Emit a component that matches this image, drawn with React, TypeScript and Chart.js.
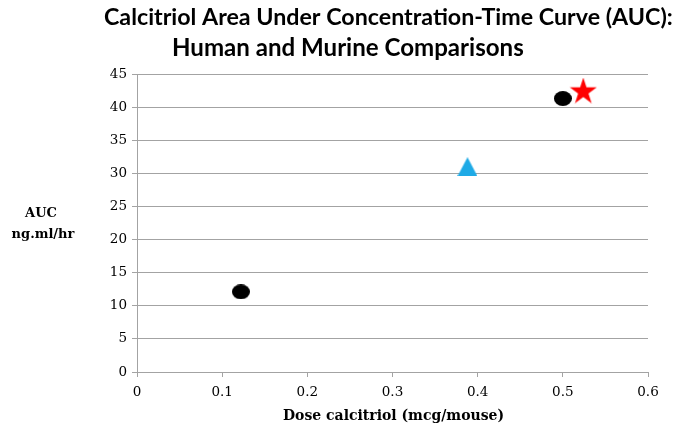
import React, { useEffect, useRef } from "react";
import { Chart, registerables } from "chart.js";

Chart.register(...registerables);

// ---- data ----
const titleLines = [
  "Calcitriol Area Under Concentration-Time Curve (AUC):",
  "Human and Murine Comparisons",
];
const xAxisTitle = "Dose calcitriol (mcg/mouse)";
const yAxisTitleLines = ["AUC", "ng.ml/hr"];

const xTickLabels = ["0", "0.1", "0.2", "0.3", "0.4", "0.5", "0.6"];
const yTickLabels = ["0", "5", "10", "15", "20", "25", "30", "35", "40", "45"];

const circleDose = [0.122, 0.5];
const circleAuc = [12.1, 41.3];
const triangleDose = [0.388];
const triangleAuc = [31.0];
const starDose = [0.524];
const starAuc = [42.5];

function makeEllipse(w: number, h: number, color: string) {
  const c = document.createElement("canvas");
  c.width = w;
  c.height = h;
  const ctx = c.getContext("2d")!;
  ctx.fillStyle = color;
  ctx.beginPath();
  ctx.ellipse(w / 2, h / 2, w / 2, h / 2, 0, 0, Math.PI * 2);
  ctx.fill();
  return c;
}

function makeTriangle(w: number, h: number, color: string) {
  const c = document.createElement("canvas");
  c.width = w;
  c.height = h;
  const ctx = c.getContext("2d")!;
  ctx.fillStyle = color;
  ctx.beginPath();
  ctx.moveTo(w / 2, 0);
  ctx.lineTo(w, h);
  ctx.lineTo(0, h);
  ctx.closePath();
  ctx.fill();
  return c;
}

function makeStar(R: number, color: string) {
  const w = Math.ceil(2 * R * Math.sin((72 * Math.PI) / 180));
  const h = Math.ceil(R * (1 + Math.cos((36 * Math.PI) / 180)));
  const c = document.createElement("canvas");
  c.width = w;
  c.height = h;
  const ctx = c.getContext("2d")!;
  ctx.fillStyle = color;
  const cx = w / 2;
  const cy = R;
  const r = R * 0.382;
  ctx.beginPath();
  for (let i = 0; i < 10; i++) {
    const ang = -Math.PI / 2 + (i * Math.PI) / 5;
    const rad = i % 2 === 0 ? R : r;
    const px = cx + rad * Math.cos(ang);
    const py = cy + rad * Math.sin(ang);
    if (i === 0) ctx.moveTo(px, py);
    else ctx.lineTo(px, py);
  }
  ctx.closePath();
  ctx.fill();
  return c;
}

const W = 677;
const H = 433;
const PLOT_LEFT = 137;
const PLOT_RIGHT = 648;
const PLOT_TOP = 74;
const PLOT_BOTTOM = 372;
const GRID = "#a3a3a3";

export default function App() {
  const ref = useRef<HTMLCanvasElement | null>(null);

  useEffect(() => {
    document.body.style.margin = "0";
    const canvas = ref.current!;
    const textPlugin = {
      id: "customText",
      afterDraw(chart: any) {
        const ctx = chart.ctx as CanvasRenderingContext2D;
        ctx.save();
        ctx.fillStyle = "#000";
        // title
        ctx.font = "bold 100px Lato";
        const w1 = ctx.measureText(titleLines[0]).width;
        const size1 = (100 * (673 - 104)) / w1;
        const w2 = ctx.measureText(titleLines[1]).width;
        const size2 = Math.min(size1 * 1.04, (100 * 352) / w2);
        ctx.textAlign = "left";
        ctx.textBaseline = "alphabetic";
        ctx.font = `bold ${size1}px Lato`;
        ctx.fillText(titleLines[0], 104, 25);
        ctx.font = `bold ${size2}px Lato`;
        ctx.fillText(titleLines[1], 172, 56);
        // y axis title
        ctx.font = "bold 13px 'DejaVu Serif'";
        ctx.textAlign = "center";
        ctx.textBaseline = "middle";
        ctx.fillText(yAxisTitleLines[0], 41, 214);
        ctx.fillText(yAxisTitleLines[1], 43, 235);
        // x axis title
        ctx.font = "bold 14px 'DejaVu Serif'";
        ctx.fillText(xAxisTitle, (PLOT_LEFT + PLOT_RIGHT) / 2 + 1, 416);
        ctx.restore();
      },
    };

    const circle = makeEllipse(18, 15, "#000000");
    const tri = makeTriangle(20, 19, "#1eaae6");
    const star = makeStar(14.2, "#ff0000");

    const chart = new Chart(canvas, {
      type: "scatter",
      data: {
        datasets: [
          {
            label: "circles",
            data: circleDose.map((x, i) => ({ x, y: circleAuc[i] })),
            pointStyle: circle as any,
            pointRadius: 5,
            backgroundColor: "#000",
            borderColor: "#000",
          },
          {
            label: "triangle",
            data: triangleDose.map((x, i) => ({ x, y: triangleAuc[i] })),
            pointStyle: tri as any,
            pointRadius: 5,
            backgroundColor: "#1eaae6",
            borderColor: "#1eaae6",
          },
          {
            label: "star",
            data: starDose.map((x, i) => ({ x, y: starAuc[i] })),
            pointStyle: star as any,
            pointRadius: 5,
            backgroundColor: "#ff0000",
            borderColor: "#ff0000",
          },
        ],
      },
      options: {
        responsive: false,
        animation: false,
        events: [],
        layout: {
          padding: { left: 0, top: PLOT_TOP, right: W - PLOT_RIGHT, bottom: 0 },
        },
        plugins: {
          legend: { display: false },
          tooltip: { enabled: false },
          title: { display: false },
        },
        scales: {
          x: {
            type: "linear",
            min: 0,
            max: 0.6,
            afterFit(scale: any) {
              scale.height = H - PLOT_BOTTOM;
            },
            afterBuildTicks(scale: any) {
              scale.ticks = xTickLabels.map((t) => ({ value: parseFloat(t) }));
            },
            ticks: {
              callback: (_v: any, i: number) => xTickLabels[i],
              color: "#000",
              font: { family: "'DejaVu Serif'", size: 13.5 },
              padding: 7,
              maxRotation: 0,
              autoSkip: false,
            },
            grid: {
              display: true,
              drawOnChartArea: false,
              drawTicks: true,
              tickLength: 5,
              color: GRID,
              lineWidth: 1,
            },
            border: { display: true, color: GRID, width: 1 },
          },
          y: {
            type: "linear",
            min: 0,
            max: 45,
            afterFit(scale: any) {
              scale.width = PLOT_LEFT;
            },
            afterBuildTicks(scale: any) {
              scale.ticks = yTickLabels.map((t) => ({ value: parseFloat(t) }));
            },
            ticks: {
              callback: (_v: any, i: number) => yTickLabels[i],
              color: "#000",
              font: { family: "'DejaVu Serif'", size: 13.5 },
              padding: 5,
              autoSkip: false,
            },
            grid: {
              display: true,
              drawOnChartArea: true,
              drawTicks: true,
              tickLength: 5,
              color: GRID,
              lineWidth: 1,
            },
            border: { display: true, color: GRID, width: 1 },
          },
        },
      },
      plugins: [textPlugin],
    });
    return () => chart.destroy();
  }, []);

  return (
    <div style={{ width: W, height: H, position: "relative", background: "#fff" }}>
      <canvas ref={ref} width={W} height={H} style={{ width: W, height: H, display: "block" }} />
    </div>
  );
}
